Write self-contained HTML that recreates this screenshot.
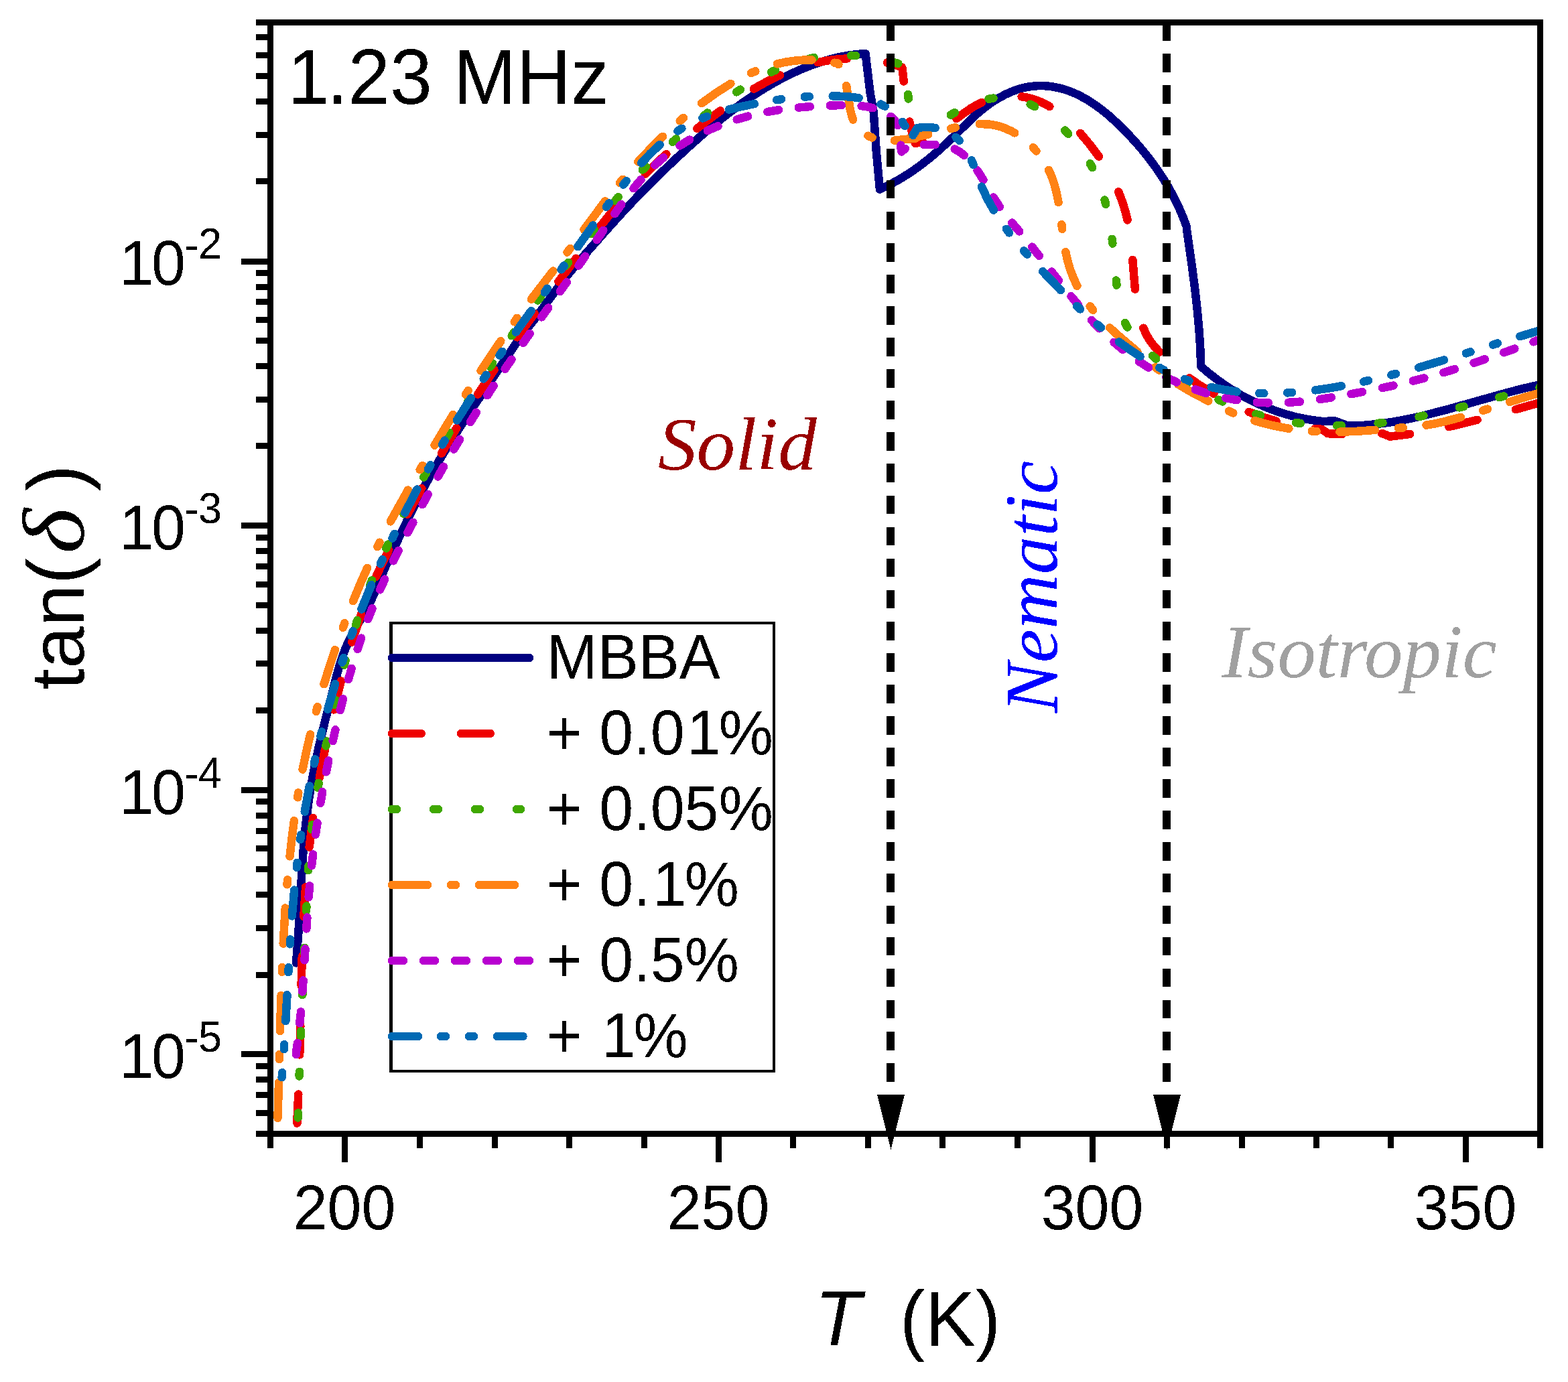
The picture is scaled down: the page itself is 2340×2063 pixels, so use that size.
<!DOCTYPE html>
<html lang="en"><head><meta charset="utf-8"><title>tan(δ) vs T, 1.23 MHz</title>
<style>html,body{margin:0;padding:0;background:#fff}svg{display:block}.s{font-family:"Liberation Sans",Arial,sans-serif;fill:#000}.t{font-family:"Liberation Serif","Times New Roman",serif;font-style:italic}</style></head><body>
<svg xmlns="http://www.w3.org/2000/svg" width="2340" height="2063" viewBox="0 0 2340 2063">
<rect width="2340" height="2063" fill="#fff"/>
<defs><clipPath id="pc"><rect x="403.5" y="33.5" width="1895" height="1659"/></clipPath><filter id="crisp" x="-5%" y="-5%" width="110%" height="110%" color-interpolation-filters="sRGB"><feComponentTransfer><feFuncA type="discrete" tableValues="0 1"/></feComponentTransfer></filter></defs>
<g clip-path="url(#pc)" fill="none" stroke-width="12.5" stroke-linecap="round" stroke-linejoin="round" shape-rendering="crispEdges">
<path id="c-navy" stroke="#000080" d="M442.0,1437.5L445.4,1391.6L450.2,1305.7L452.6,1269.8L456.1,1232.0L460.3,1198.3L463.3,1178.5L466.7,1158.8L474.7,1119.7L484.9,1077.0L503.3,1005.2L507.2,991.8L511.6,978.5L515.9,967.3L520.7,956.4L528.9,940.4L545.3,912.9L551.8,900.6L557.6,887.9L575.5,845.5L598.2,796.5L621.1,749.7L631.2,730.2L640.8,712.6L660.9,678.1L684.3,640.9L708.5,604.2L772.1,509.6L779.3,500.0L800.3,473.3L830.9,431.4L846.9,410.8L871.3,381.7L912.4,335.3L931.2,314.6L947.7,297.2L965.8,278.6L984.3,260.3L1005.9,239.5L1026.5,220.5L1044.4,204.4L1062.6,188.8L1078.1,176.2L1093.8,164.0L1110.0,152.2L1124.8,142.1L1140.0,132.5L1155.5,123.3L1169.7,115.7L1184.1,108.6L1198.7,102.1L1211.8,97.0L1225.0,92.5L1238.4,88.6L1252.0,85.3L1265.7,82.7L1279.6,80.9L1291.6,80.1L1298.5,137.8L1303.7,167.4L1307.8,226.1L1312.9,282.6L1329.3,274.8L1343.4,267.0L1357.0,258.6L1371.7,248.3L1387.3,236.2L1404.0,221.9L1418.6,208.2L1450.3,177.2L1459.2,169.0L1466.9,162.6L1478.1,154.1L1488.3,147.5L1500.7,140.8L1511.7,136.0L1519.2,133.3L1526.8,131.2L1534.6,129.6L1540.5,128.8L1548.4,128.2L1556.3,128.1L1564.2,128.6L1572.1,129.7L1579.8,131.2L1587.4,133.2L1594.9,135.7L1604.0,139.3L1611.2,142.7L1619.9,147.4L1626.8,151.6L1635.1,157.2L1644.9,164.4L1654.4,172.2L1663.5,180.4L1673.9,190.3L1683.9,200.5L1694.8,212.4L1705.2,224.5L1713.9,235.4L1722.2,246.4L1730.1,257.8L1737.6,269.4L1743.7,279.5L1750.4,291.7L1755.8,302.4L1760.9,313.3L1765.6,324.5L1770.7,338.0L1770.9,341.8L1778.6,395.4L1783.7,435.1L1787.0,465.0L1789.5,492.9L1791.2,518.9L1792.3,547.0L1801.4,554.9L1814.0,564.8L1825.4,573.1L1837.1,580.8L1849.1,588.1L1861.4,594.9L1874.0,601.2L1886.9,606.9L1903.7,613.4L1918.9,618.3L1934.4,622.5L1950.1,625.7L1962.0,627.6L1971.9,628.8L1993.2,628.7L2011.7,635.7L2025.8,635.4L2039.9,634.5L2057.9,632.7L2077.8,629.9L2099.5,625.9L2121.0,621.2L2160.0,611.2L2249.3,586.1L2274.6,579.6L2298.1,574.3L2300.0,573.5"/>
<path id="c-red" stroke="#EE0000" d="M443.5,1676.7L443.3,1674.7L445.3,1633.5M447.2,1574.4L448.3,1530.9M449.6,1471.4L450.8,1427.7M453.3,1368.0L456.1,1324.2M461.6,1264.5L467.2,1220.8M476.7,1161.5L485.1,1118.2M498.1,1059.4L508.9,1016.6M525.3,958.6L532.4,936.6L539.2,916.7M561.4,860.7L570.0,842.0L580.3,820.9M608.2,767.6L629.3,729.0M658.9,676.8L681.3,639.1M713.1,588.5L737.5,552.1M771.9,503.4L797.7,468.2M833.4,420.5L859.7,385.7M895.6,338.3L922.9,304.2M962.7,260.0L978.4,244.6L994.4,230.0M1040.2,191.9L1058.3,177.9L1075.0,165.4M1124.9,132.6L1144.7,121.7L1163.8,112.4M1220.5,93.2L1231.9,90.9L1241.7,89.4L1253.5,88.1L1264.1,87.5M1324.0,93.5L1333.6,96.1L1341.3,98.6L1345.1,99.9L1346.4,101.1L1348.8,121.5M1357.3,181.6L1361.2,198.6L1366.0,214.0L1370.0,213.0L1376.6,210.6M1427.5,177.1L1438.7,168.7L1448.8,161.8L1457.4,156.7L1465.0,152.9M1524.6,144.2L1534.8,146.0L1546.1,149.3L1557.0,153.9L1566.4,159.0M1612.2,198.8L1627.2,216.7L1639.8,233.6M1669.2,286.4L1673.5,297.3L1676.7,306.6L1680.0,317.9L1682.6,328.4M1690.3,387.9L1693.9,431.6M1706.3,489.7L1711.4,500.7L1716.5,509.1L1722.5,516.9L1730.4,525.5M1774.9,564.5L1791.0,575.4L1811.4,587.7M1863.7,614.8L1883.6,622.3L1904.6,628.6M1962.2,640.4L1972.7,640.8L1981.7,647.2L2003.2,648.0M2062.1,647.2L2063.4,647.2L2074.5,651.7L2104.2,647.9M2162.2,637.1L2204.5,626.8M2261.9,611.2L2300.0,600.5"/>
<path id="c-green" stroke="#3FA800" d="M444.7,1668.5L445.0,1661.4M446.6,1606.6L446.9,1599.7M448.8,1546.2L449.1,1539.4M451.3,1485.2L451.6,1478.1M454.2,1422.0L454.5,1414.8M457.1,1359.4L457.4,1352.5M460.1,1299.3L460.6,1292.5M465.3,1238.2L466.1,1231.2M474.4,1175.8L475.7,1168.8M486.5,1113.5L487.9,1106.5M499.5,1052.2L501.0,1045.4M513.8,992.6L515.6,985.9M531.0,933.0L533.2,926.1M552.4,872.8L555.0,866.3M576.3,818.5L579.1,812.6M602.5,766.9L605.6,761.0M632.3,712.5L636.0,705.9M666.7,652.1L670.4,645.8M698.1,599.8L701.7,593.9M731.5,547.8L735.2,542.3M763.7,501.2L767.6,495.7M802.7,448.5L807.4,442.5M843.6,397.3L848.2,391.9M883.0,349.2L887.1,343.7M918.4,299.6L922.6,294.1M958.8,253.5L963.7,248.7M1003.8,211.8L1009.0,207.3M1050.5,172.7L1055.9,168.5M1099.1,137.4L1104.8,133.7M1151.1,107.6L1157.2,104.7M1208.1,87.5L1214.9,86.1M1270.1,82.7L1277.2,83.2M1333.5,92.9L1340.4,94.9M1355.1,140.8L1355.7,147.5M1371.9,196.4L1374.7,200.1L1375.5,201.9M1418.8,171.6L1424.7,168.1M1475.6,147.7L1482.6,146.5M1537.7,155.7L1544.2,159.1M1589.2,194.5L1594.2,199.8M1626.8,244.2L1630.1,250.2M1648.6,298.5L1650.2,304.9M1659.6,356.8L1660.4,363.6M1665.8,418.5L1666.5,425.7M1679.0,481.9L1682.5,488.5M1720.0,531.0L1725.2,535.6M1767.8,567.4L1773.3,571.0M1818.5,596.7L1824.6,599.5M1874.4,618.2L1880.9,620.0M1933.8,631.0L1940.6,631.9M1995.0,635.4L2002.0,635.4M2056.6,631.8L2063.5,631.0M2117.6,622.0L2124.5,620.6M2177.9,608.3L2184.6,606.7M2237.4,593.1L2244.1,591.4M2297.5,578.3L2300.0,577.5"/>
<path id="c-orange" stroke="#FF8214" d="M414.5,1668.9L416.0,1616.1M416.9,1581.1L417.1,1574.1M418.0,1539.1L419.5,1486.0M420.8,1450.9L421.1,1443.9M422.7,1408.7L425.8,1355.5M428.5,1320.4L429.1,1313.4M432.5,1278.3L435.5,1251.4L438.9,1225.2M444.2,1190.3L445.3,1183.3M451.6,1148.6L457.3,1121.4L463.1,1096.3M471.8,1062.0L473.7,1055.2M483.5,1021.2L491.5,995.6L500.0,970.2M511.8,936.9L514.3,930.2M527.0,897.2L537.5,871.9L548.1,847.9M563.3,816.0L566.5,809.7M582.8,778.3L608.9,731.6M626.7,701.1L630.4,695.0M648.5,664.7L676.2,619.0M694.8,589.0L698.6,583.1M717.6,553.4L747.3,509.1M767.7,480.4L771.8,474.8M792.9,446.6L825.3,404.5M846.5,376.6L850.7,371.0M871.5,342.8L903.1,300.4M924.9,273.1L929.4,267.8M952.3,241.5L971.1,221.5L989.0,203.8M1014.7,180.4L1019.9,175.9M1047.0,154.2L1069.0,138.5L1090.4,124.9M1121.0,109.1L1127.3,106.3M1159.9,95.4L1171.7,92.8L1185.4,90.7L1199.3,89.6L1211.5,89.5M1245.4,93.7L1250.1,94.5L1251.4,96.1M1263.1,128.0L1268.6,162.3L1270.4,170.3L1273.0,178.5M1295.4,202.7L1301.6,205.4M1335.0,209.6L1366.0,206.5L1372.0,202.5L1374.3,202.9L1385.2,200.6M1419.1,191.9L1426.0,190.3M1461.7,185.1L1474.3,185.4L1480.2,186.1L1487.8,187.7L1493.5,189.2L1500.9,191.9L1508.1,195.2L1514.2,198.4M1541.8,220.3L1546.5,225.5M1565.1,253.8L1569.7,264.3L1573.5,275.5L1577.0,288.9L1579.6,302.0M1584.3,335.2L1585.2,341.9M1590.3,376.1L1593.5,390.2L1596.9,401.7L1601.9,414.8L1607.4,426.8M1626.7,457.2L1631.2,462.9M1656.1,489.3L1670.4,502.2L1697.4,525.1M1724.4,548.2L1729.9,552.7M1757.9,573.4L1776.0,584.2L1803.3,598.6M1834.0,613.6L1840.3,616.4M1872.5,628.1L1884.3,631.5L1897.8,634.8L1909.5,637.3L1923.4,639.7M1957.8,643.6L1964.7,644.0M1999.4,644.7L2023.2,643.9L2052.0,641.9M2086.8,638.9L2093.7,638.4M2128.4,634.7L2140.5,632.6L2152.2,630.1L2179.9,622.9M2213.2,612.7L2219.9,610.6M2253.2,599.9L2278.9,592.0L2300.0,586.0"/>
<path id="c-purple" stroke="#B800D0" d="M442.0,1573.9L441.8,1571.9L443.9,1557.1M447.3,1527.3L449.0,1510.4M451.4,1480.4L452.6,1463.4M454.5,1433.4L455.5,1416.4M457.3,1386.4L458.4,1369.4M460.6,1339.3L462.1,1322.3M465.1,1292.3L467.1,1275.4M471.0,1245.5L473.5,1228.6M478.3,1198.8L481.2,1181.9M486.8,1152.3L490.2,1135.5M496.7,1106.0L500.5,1089.3M507.7,1060.0L512.0,1043.4M519.9,1014.2L524.7,997.8M533.7,968.9L539.1,952.6M549.3,924.2L555.5,908.2M567.2,880.3L574.2,864.7M587.1,837.3L594.7,821.9M608.4,795.0L616.4,779.8M630.6,753.1L638.8,738.0M653.5,711.6L662.0,696.7M677.3,670.6L686.1,655.9M701.8,630.1L710.9,615.6M727.3,590.1L736.7,575.8M753.6,550.8L763.4,536.7M780.7,511.9L790.6,498.0M808.2,473.4L818.2,459.5M835.8,435.0L845.8,421.1M863.4,396.6L873.3,382.6M890.6,357.9L900.3,343.9M917.4,319.0L927.3,305.1M945.5,281.2L956.5,268.1M977.4,246.4L990.2,235.2M1014.5,217.5L1029.0,208.6M1055.8,195.0L1071.4,188.3M1099.7,178.3L1116.1,173.6M1145.4,167.0L1162.1,164.1M1191.9,160.5L1208.8,159.1M1238.8,157.5L1255.8,157.1M1285.7,158.2L1294.8,159.5L1302.4,161.2M1329.3,174.0L1332.7,177.1L1335.3,179.9L1337.5,183.0L1339.7,187.2M1344.4,216.6L1344.9,224.8L1345.5,226.5L1350.7,221.8M1378.7,216.0L1388.5,215.8L1395.7,216.0M1424.7,222.5L1432.1,226.7L1438.9,231.8M1458.5,254.3L1467.6,268.6M1482.7,294.5L1491.8,308.9M1510.2,332.5L1521.2,345.4M1540.2,368.6L1550.8,381.9M1569.3,405.5L1579.8,418.9M1598.5,442.3L1609.3,455.4M1629.0,478.0L1640.7,490.4M1662.5,511.0L1675.6,521.9M1699.8,539.6L1714.2,548.8M1740.5,563.2L1755.9,570.5M1783.9,581.5L1800.1,586.8M1829.2,594.1L1846.0,597.2M1875.8,600.7L1892.9,601.4M1923.0,600.8L1940.0,599.6M1969.9,596.0L1986.8,593.4M2016.4,588.2L2033.2,585.0M2062.8,579.1L2079.5,575.5M2108.9,568.6L2125.4,564.4M2154.5,556.1L2170.8,551.1M2199.6,541.8L2215.8,536.3M2244.3,526.3L2260.3,520.6M2288.5,510.3L2300.0,506.0"/>
<path id="c-blue" stroke="#0069B4" d="M420.7,1608.2L421.2,1601.2M423.8,1566.2L424.2,1559.2M426.3,1524.2L428.5,1485.2M430.4,1451.2L430.8,1444.2M432.9,1409.3L433.3,1402.3M435.8,1367.4L439.2,1328.6M442.8,1294.8L443.6,1287.8M448.2,1253.2L449.2,1246.3M454.7,1211.7L461.8,1173.4M468.8,1140.1L470.3,1133.3M478.4,1099.3L480.2,1092.5M489.2,1058.6L500.2,1021.1M510.6,988.7L512.8,982.0M524.4,948.9L526.8,942.3M539.4,909.4L554.2,873.1M567.9,841.7L570.7,835.3M585.6,803.4L588.7,797.0M604.3,765.4L622.5,730.5M639.0,700.4L642.4,694.3M660.0,663.7L663.6,657.6M681.9,627.4L702.9,594.2M721.7,565.5L725.6,559.7M745.5,530.5L749.5,524.8M769.8,495.9L792.7,464.1M812.8,436.4L816.9,430.7M837.6,402.3L841.7,396.6M862.3,368.2L885.0,336.4M904.9,308.9L909.1,303.3M930.3,275.6L934.7,270.1M957.2,243.5L970.7,229.1L984.6,216.0M1011.4,195.5L1017.3,191.8M1048.4,176.4L1054.9,173.9M1088.1,163.5L1106.5,159.0L1125.9,155.0M1159.2,149.2L1166.1,148.2M1200.8,144.5L1207.8,144.1M1242.7,143.3L1262.7,144.1L1272.9,145.1L1281.6,146.3M1314.4,155.6L1320.7,158.7M1346.8,181.9L1350.5,188.0M1362.5,201.8L1369.0,191.0L1377.4,190.1L1384.1,190.0L1390.6,190.3L1395.7,191.0M1426.5,204.9L1431.7,209.7M1449.9,239.4L1452.6,245.9M1465.0,278.7L1473.2,296.3L1482.8,313.5M1501.8,341.8L1506.0,347.4M1528.2,374.4L1532.8,379.7M1556.3,405.3L1583.0,433.2M1607.0,456.7L1612.0,461.5M1637.7,484.5L1642.9,489.0M1669.9,510.3L1685.7,521.7L1701.5,532.1M1730.4,548.9L1736.5,552.1M1768.0,566.0L1774.5,568.4M1807.6,578.0L1826.5,581.8L1845.7,584.6M1879.3,587.0L1886.3,587.2M1921.2,586.4L1928.2,585.9M1963.0,582.4L1981.7,579.7L2001.7,576.3M2035.2,569.6L2042.1,568.0M2076.4,559.7L2083.2,557.9M2117.3,548.6L2155.0,537.4M2187.8,527.3L2194.5,525.2M2228.1,514.6L2234.8,512.5M2268.3,502.2L2298.5,493.1L2300.0,492.0"/>
</g>
<g fill="#000" shape-rendering="crispEdges">
<rect x="382" y="29" width="1921" height="9"/>
<rect x="382" y="1688" width="1921" height="9"/>
<rect x="399" y="29" width="9" height="1685"/>
<rect x="2294" y="29" width="9" height="1685"/>
<rect x="360" y="386" width="40" height="9"/>
<rect x="360" y="780" width="40" height="9"/>
<rect x="360" y="1175" width="40" height="9"/>
<rect x="360" y="1569" width="40" height="9"/>
<rect x="382" y="51" width="18" height="9"/>
<rect x="382" y="78" width="18" height="9"/>
<rect x="382" y="109" width="18" height="9"/>
<rect x="382" y="147" width="18" height="9"/>
<rect x="382" y="197" width="18" height="9"/>
<rect x="382" y="266" width="18" height="9"/>
<rect x="382" y="403" width="18" height="9"/>
<rect x="382" y="424" width="18" height="9"/>
<rect x="382" y="446" width="18" height="9"/>
<rect x="382" y="473" width="18" height="9"/>
<rect x="382" y="504" width="18" height="9"/>
<rect x="382" y="542" width="18" height="9"/>
<rect x="382" y="592" width="18" height="9"/>
<rect x="382" y="661" width="18" height="9"/>
<rect x="382" y="798" width="18" height="9"/>
<rect x="382" y="818" width="18" height="9"/>
<rect x="382" y="841" width="18" height="9"/>
<rect x="382" y="868" width="18" height="9"/>
<rect x="382" y="899" width="18" height="9"/>
<rect x="382" y="937" width="18" height="9"/>
<rect x="382" y="986" width="18" height="9"/>
<rect x="382" y="1056" width="18" height="9"/>
<rect x="382" y="1192" width="18" height="9"/>
<rect x="382" y="1213" width="18" height="9"/>
<rect x="382" y="1236" width="18" height="9"/>
<rect x="382" y="1262" width="18" height="9"/>
<rect x="382" y="1293" width="18" height="9"/>
<rect x="382" y="1331" width="18" height="9"/>
<rect x="382" y="1381" width="18" height="9"/>
<rect x="382" y="1451" width="18" height="9"/>
<rect x="382" y="1587" width="18" height="9"/>
<rect x="382" y="1607" width="18" height="9"/>
<rect x="382" y="1630" width="18" height="9"/>
<rect x="382" y="1657" width="18" height="9"/>
<rect x="510" y="1696" width="9" height="39"/>
<rect x="1068" y="1696" width="9" height="39"/>
<rect x="1626" y="1696" width="9" height="39"/>
<rect x="2183" y="1696" width="9" height="39"/>
<rect x="622" y="1696" width="9" height="18"/>
<rect x="734" y="1696" width="9" height="18"/>
<rect x="845" y="1696" width="9" height="18"/>
<rect x="957" y="1696" width="9" height="18"/>
<rect x="1179" y="1696" width="9" height="18"/>
<rect x="1291" y="1696" width="9" height="18"/>
<rect x="1402" y="1696" width="9" height="18"/>
<rect x="1514" y="1696" width="9" height="18"/>
<rect x="1737" y="1696" width="9" height="18"/>
<rect x="1849" y="1696" width="9" height="18"/>
<rect x="1960" y="1696" width="9" height="18"/>
<rect x="2071" y="1696" width="9" height="18"/>
</g>
<g shape-rendering="crispEdges">
<line x1="1329" y1="33.3" x2="1329" y2="1630" stroke="#000" stroke-width="12" stroke-dasharray="27.7 19.38"/>
<polygon points="1309.0,1634 1350.0,1634 1329.5,1716" fill="#000"/>
<line x1="1741" y1="33.3" x2="1741" y2="1630" stroke="#000" stroke-width="12" stroke-dasharray="27.7 19.38"/>
<polygon points="1721.0,1634 1762.0,1634 1741.5,1716" fill="#000"/>
</g>
<g fill="#000" shape-rendering="crispEdges"><rect x="581" y="928" width="576" height="4"/><rect x="581" y="1597" width="576" height="4"/><rect x="581" y="928" width="5" height="673"/><rect x="1153" y="928" width="4" height="673"/></g>
<g fill="none" stroke-width="12.5" stroke-linecap="round" shape-rendering="crispEdges">
<line x1="585" y1="982" x2="790" y2="982" stroke="#000080"/>
<line x1="585" y1="1095" x2="732" y2="1095" stroke="#EE0000" stroke-dasharray="43.6 59.5"/>
<line x1="585" y1="1208" x2="777" y2="1208" stroke="#3FA800" stroke-dasharray="7 55"/>
<line x1="585" y1="1321" x2="769" y2="1321" stroke="#FF8214" stroke-dasharray="53 35 7 35"/>
<line x1="585" y1="1434" x2="790" y2="1434" stroke="#B800D0" stroke-dasharray="17 30"/>
<line x1="585" y1="1547" x2="780.5" y2="1547" stroke="#0069B4" stroke-dasharray="39 34 7 35 7 35"/>
</g>
<g class="s" font-size="91.5" filter="url(#crisp)">
<text transform="translate(815.5,1013) scale(1,1.04)">MBBA</text>
<text transform="translate(815.5,1126) scale(1,1.04)">+ 0.0<tspan dx="3.3">1</tspan><tspan dx="-3.3">%</tspan></text>
<text transform="translate(815.5,1239) scale(1,1.04)">+ 0.05%</text>
<text transform="translate(815.5,1352) scale(1,1.04)">+ 0.<tspan dx="3.3">1</tspan><tspan dx="-3.3">%</tspan></text>
<text transform="translate(815.5,1465) scale(1,1.04)">+ 0.5%</text>
<text transform="translate(815.5,1578) scale(1,1.04)">+ <tspan dx="3.3">1</tspan><tspan dx="-3.3">%</tspan></text>
</g>
<g class="s" font-size="91.5" filter="url(#crisp)">
<text transform="translate(175,425) scale(1,1.04)"><tspan dx="3.3">1</tspan><tspan dx="-3.3">0</tspan></text>
<text x="275.5" y="386.8" font-size="63">-</text>
<text transform="translate(296,386) scale(1,1.04)" font-size="63">2</text>
<text transform="translate(175,819.5) scale(1,1.04)"><tspan dx="3.3">1</tspan><tspan dx="-3.3">0</tspan></text>
<text x="275.5" y="781.3" font-size="63">-</text>
<text transform="translate(296,780.5) scale(1,1.04)" font-size="63">3</text>
<text transform="translate(175,1214.5) scale(1,1.04)"><tspan dx="3.3">1</tspan><tspan dx="-3.3">0</tspan></text>
<text x="275.5" y="1176.3" font-size="63">-</text>
<text transform="translate(296,1175.5) scale(1,1.04)" font-size="63">4</text>
<text transform="translate(175,1608.5) scale(1,1.04)"><tspan dx="3.3">1</tspan><tspan dx="-3.3">0</tspan></text>
<text x="275.5" y="1570.3" font-size="63">-</text>
<text transform="translate(296,1569.5) scale(1,1.04)" font-size="63">5</text>
<text transform="translate(514.0,1835) scale(1,1.04)" text-anchor="middle">200</text>
<text transform="translate(1072.0,1835) scale(1,1.04)" text-anchor="middle">250</text>
<text transform="translate(1630.0,1835) scale(1,1.04)" text-anchor="middle">300</text>
<text transform="translate(2187.0,1835) scale(1,1.04)" text-anchor="middle">350</text>
</g>
<g class="s" font-size="113" filter="url(#crisp)">
<text transform="translate(425,155) scale(1,1.04)" font-size="113"><tspan dx="4">1</tspan><tspan dx="-4">.23 MHz</tspan></text>
<text transform="translate(1216,2009) scale(1,1.04)" font-style="italic">T</text>
<text transform="translate(1342.8,2009) scale(1,1.03)">(K)</text>
<g transform="translate(124.8,1029.5) rotate(-90)">
<text x="0" y="0">tan</text>
<text x="157" y="0" font-size="120">(</text>
<text transform="translate(203,0) scale(1.1,1)" class="t" font-size="132">δ</text>
<text x="296" y="0" font-size="120">)</text>
</g>
</g>
<g class="t" font-size="113" filter="url(#crisp)">
<text transform="translate(982,700.7) scale(1.02,1)" fill="#990000">Solid</text>
<text transform="translate(1577.5,1064.5) rotate(-90)" fill="#0000FF">Nematic</text>
<text transform="translate(1823.5,1010.5) scale(1.016,1)" fill="#A0A0A0">Isotropic</text>
</g>
</svg></body></html>
